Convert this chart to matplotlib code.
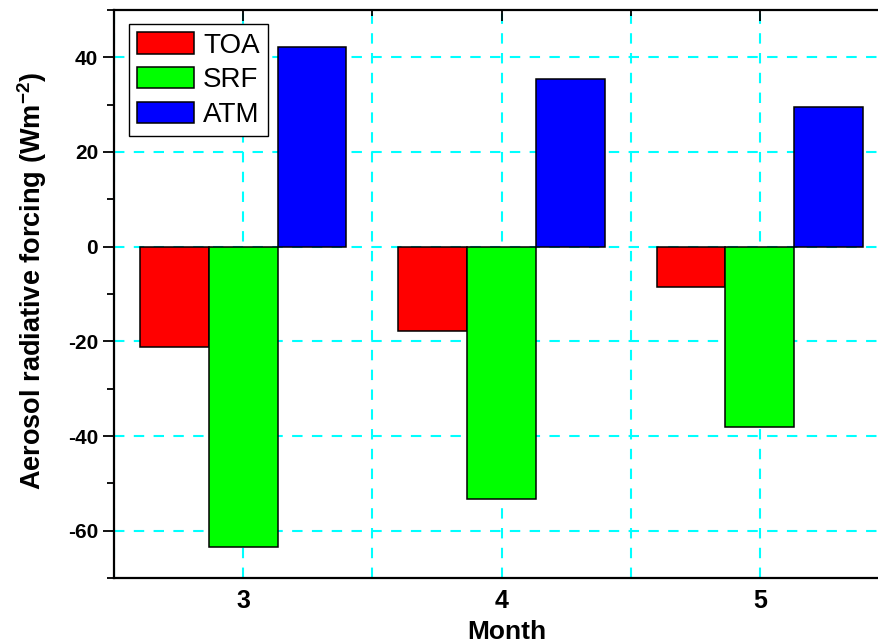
import matplotlib
matplotlib.use("Agg")
import matplotlib.pyplot as plt
from matplotlib.ticker import MultipleLocator
import numpy as np

plt.rcParams["font.family"] = ["Liberation Sans", "DejaVu Sans"]
plt.rcParams["axes.unicode_minus"] = False
plt.rcParams["mathtext.fontset"] = "custom"
plt.rcParams["mathtext.bf"] = "Liberation Sans:bold"
plt.rcParams["mathtext.rm"] = "Liberation Sans"

months = [3, 4, 5]
series = ["TOA", "SRF", "ATM"]
toa = [-21.3, -17.9, -8.6]
srf = [-63.4, -53.3, -38.1]
atm = [42.2, 35.4, 29.5]
colors = ["#ff0000", "#00ff00", "#0000ff"]

fig = plt.figure(figsize=(8.79, 6.44), dpi=100)
ax = fig.add_axes([114 / 879, 66 / 644, 775 / 879, 568 / 644])

width = 0.8 / 3
x = np.array(months, dtype=float)
for i, (name, vals) in enumerate(zip(series, [toa, srf, atm])):
    ax.bar(x + (i - 1) * width, vals, width, color=colors[i],
           edgecolor="black", linewidth=1.1, label=name, zorder=3)

ax.set_xlim(2.5, 5.5)
ax.set_ylim(-70, 50)
ax.set_xticks(months)
ax.xaxis.set_minor_locator(MultipleLocator(0.5))
ax.yaxis.set_major_locator(MultipleLocator(20))
ax.yaxis.set_minor_locator(MultipleLocator(10))

# cyan dashed grid behind the bars
ax.set_axisbelow(True)
dash = (0, (5, 4.5))
ax.grid(True, which="major", axis="y", color="#00ffff", linestyle=dash, linewidth=1.5)
ax.grid(True, which="both", axis="x", color="#00ffff", linestyle=dash, linewidth=1.5)

for s in ["left", "top", "bottom"]:
    ax.spines[s].set_linewidth(1.6)
ax.spines["right"].set_visible(False)

ax.tick_params(axis="y", which="major", direction="out", length=8, width=1.3, labelsize=15)
ax.tick_params(axis="y", which="minor", direction="out", length=5, width=1.3)
ax.tick_params(axis="x", which="both", bottom=False, top=True, direction="in",
               labelsize=18, pad=8)
ax.tick_params(axis="x", which="major", length=8, width=1.3)
ax.tick_params(axis="x", which="minor", length=4, width=1.3)
for lab in ax.get_xticklabels() + ax.get_yticklabels():
    lab.set_fontweight("bold")

ax.set_ylabel("Aerosol radiative forcing (Wm$^{\\mathbf{-2}}$)", fontsize=19.5,
              fontweight="bold", labelpad=13.5)
ax.yaxis.label.set_y(0.523)
ax.set_xlabel("Month", fontsize=19, fontweight="bold", labelpad=5)
ax.xaxis.label.set_x(0.507)

leg = ax.legend(loc="upper left", bbox_to_anchor=(0.019, 0.9754), borderaxespad=0,
                fontsize=20, fancybox=False, edgecolor="black", framealpha=1,
                handlelength=2.05, handleheight=0.8, labelspacing=0.3,
                handletextpad=0.33, borderpad=0.3)
leg.get_frame().set_linewidth(1.0)

fig.savefig("out.png", dpi=100)
